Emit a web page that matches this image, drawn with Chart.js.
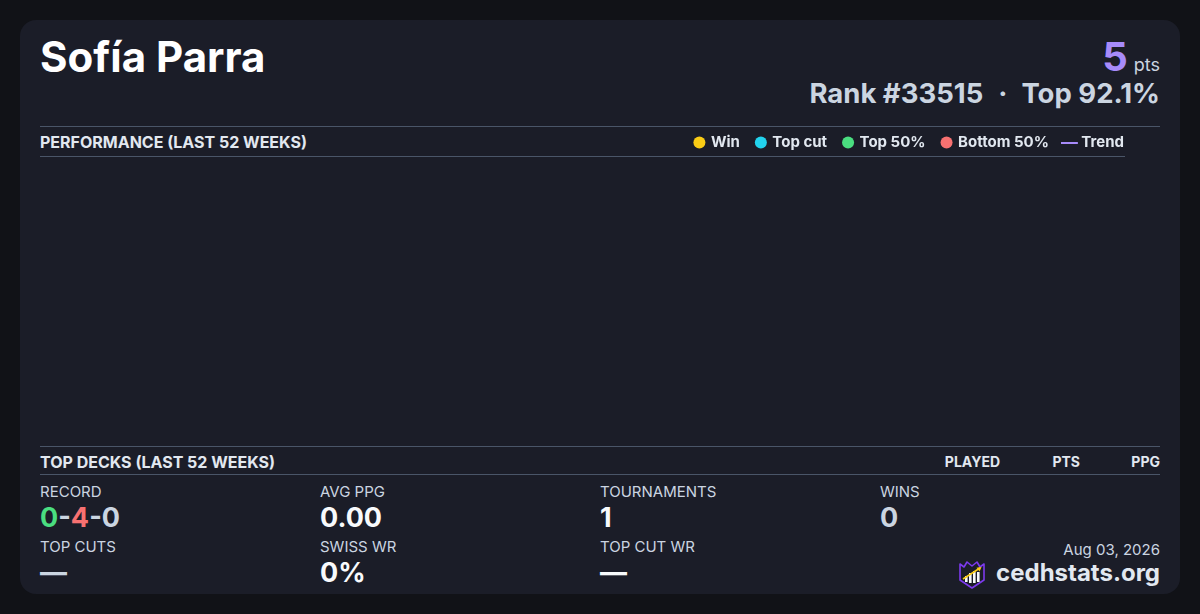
<!DOCTYPE html>
<html>
<head>
<meta charset="utf-8">
<script src="https://cdn.jsdelivr.net/npm/chart.js@4.4.1/dist/chart.umd.min.js"></script>
<style>
  html, body { margin: 0; padding: 0; }
  body { width: 1200px; height: 614px; background: #111217; overflow: hidden; font-family: Inter, "Noto Sans", sans-serif; position: relative; }
  .card { position: absolute; left: 20px; top: 20px; width: 1160px; height: 574px; background: #1b1d28; border-radius: 16px; }
  .abs { position: absolute; line-height: 1; white-space: nowrap; }
  .hline { position: absolute; height: 1px; background: #4a5568; }
  .name { left: 40px; top: 36px; font-size: 42px; font-weight: 700; color: #ffffff; }
  .pts { right: 40px; top: 37px; font-size: 40px; font-weight: 700; color: #a78bfa; }
  .pts small { font-size: 18px; font-weight: 400; color: #cbd5e1; margin-left: 6px; }
  .rank { right: 40px; top: 80px; font-size: 27.5px; font-weight: 700; color: #cbd5e1; }
  .rank .dot { display: inline-block; margin: 0 14px 0 15px; }
  .sec { font-size: 16px; font-weight: 700; color: #e2e8f0; }
  .colh { font-size: 14px; font-weight: 700; color: #e2e8f0; top: 455px; }
  .lbl { font-size: 15px; font-weight: 400; color: #cbd5e1; }
  .val { font-size: 27px; font-weight: 700; color: #f8fafc; }
  .date { right: 40px; top: 542px; font-size: 15px; color: #cbd5e1; }
  .site { right: 40px; top: 561px; font-size: 24px; font-weight: 700; color: #e2e8f0; }
  #chartBox { position: absolute; left: 40px; top: 118px; width: 1101px; height: 328px; }
</style>
</head>
<body>
<div class="card"></div>

<div class="abs name">Sofía Parra</div>
<div class="abs pts">5<small>pts</small></div>
<div class="abs rank">Rank #33515<span class="dot">·</span>Top 92.1%</div>

<div class="hline" style="left:40px; top:126px; width:1120px;"></div>
<div class="abs sec" style="left:40px; top:134px;">PERFORMANCE (LAST 52 WEEKS)</div>
<div class="hline" style="left:40px; top:156px; width:1085px;"></div>

<div id="chartBox"><canvas id="perfChart"></canvas></div>

<div class="hline" style="left:40px; top:446px; width:1120px;"></div>
<div class="abs sec" style="left:40px; top:454px;">TOP DECKS (LAST 52 WEEKS)</div>
<div class="abs colh" style="right:200px;">PLAYED</div>
<div class="abs colh" style="right:120px;">PTS</div>
<div class="abs colh" style="right:40px;">PPG</div>
<div class="hline" style="left:40px; top:474px; width:1120px;"></div>

<div class="abs lbl" style="left:40px; top:484px;">RECORD</div>
<div class="abs val" style="left:40px; top:503.5px;"><span style="color:#4ade80">0</span><span style="color:#cbd5e1">-</span><span style="color:#f87171">4</span><span style="color:#cbd5e1">-0</span></div>
<div class="abs lbl" style="left:320px; top:484px;">AVG PPG</div>
<div class="abs val" style="left:320px; top:503.5px;">0.00</div>
<div class="abs lbl" style="left:600px; top:484px;">TOURNAMENTS</div>
<div class="abs val" style="left:600px; top:503.5px;">1</div>
<div class="abs lbl" style="left:880px; top:484px;">WINS</div>
<div class="abs val" style="left:880px; top:503.5px; color:#cbd5e1;">0</div>

<div class="abs lbl" style="left:40px; top:539px;">TOP CUTS</div>
<div class="abs val" style="left:40px; top:558.5px; color:#cbd5e1;">—</div>
<div class="abs lbl" style="left:320px; top:539px;">SWISS WR</div>
<div class="abs val" style="left:320px; top:558.5px;">0%</div>
<div class="abs lbl" style="left:600px; top:539px;">TOP CUT WR</div>
<div class="abs val" style="left:600px; top:558.5px;">—</div>

<div class="abs date">Aug 03, 2026</div>
<svg style="position:absolute; left:957px; top:559px;" width="30" height="30" viewBox="0 0 30 30">
  <path d="M3 5 L7 8 L10 3 L15 7 L20 3 L23 8 L27 5 L27 21 L15 29 L3 21 Z" fill="#1b1d28" stroke="#7c3aed" stroke-width="1.6" stroke-linejoin="round"/>
  <rect x="8" y="17" width="2.6" height="6" fill="#f8fafc"/>
  <rect x="12" y="14" width="2.6" height="10" fill="#f8fafc"/>
  <rect x="16" y="12" width="2.6" height="12" fill="#f8fafc"/>
  <rect x="20" y="13" width="2.6" height="10" fill="#f8fafc"/>
  <path d="M6 20 L23 9" stroke="#facc15" stroke-width="1.6"/>
  <path d="M24.5 8 L19.5 8.8 L22.6 12.4 Z" fill="#facc15"/>
</svg>
<div class="abs site">cedhstats.org</div>

<script>
// weekly results, last 52 weeks (nothing placed on the chart for this player)
const weeks = [];
const winPts = [];
const topCutPts = [];
const top50Pts = [];
const bottom50Pts = [];
const trendPts = [];

const seriesNames = ["Win", "Top cut", "Top 50%", "Bottom 50%", "Trend"];
const seriesColors = ["#facc15", "#22d3ee", "#4ade80", "#f87171", "#a78bfa"];

// small line marker for the trend legend entry
const trendMark = document.createElement("canvas");
trendMark.width = 18;
trendMark.height = 2;
const tctx = trendMark.getContext("2d");
tctx.fillStyle = seriesColors[4];
tctx.fillRect(0, 0, 17, 2);

const ctx = document.getElementById("perfChart");

new Chart(ctx, {
  type: "line",
  data: {
    labels: weeks,
    datasets: [
      { label: seriesNames[0], data: winPts, showLine: false, backgroundColor: seriesColors[0], borderColor: seriesColors[0], pointStyle: "circle" },
      { label: seriesNames[1], data: topCutPts, showLine: false, backgroundColor: seriesColors[1], borderColor: seriesColors[1], pointStyle: "circle" },
      { label: seriesNames[2], data: top50Pts, showLine: false, backgroundColor: seriesColors[2], borderColor: seriesColors[2], pointStyle: "circle" },
      { label: seriesNames[3], data: bottom50Pts, showLine: false, backgroundColor: seriesColors[3], borderColor: seriesColors[3], pointStyle: "circle" },
      { label: seriesNames[4], data: trendPts, borderColor: seriesColors[4], backgroundColor: seriesColors[4], pointRadius: 0, borderWidth: 2, pointStyle: trendMark },
    ],
  },
  options: {
    responsive: true,
    maintainAspectRatio: false,
    animation: false,
    layout: { padding: 0 },
    scales: {
      x: { display: false },
      y: { display: false },
    },
    plugins: {
      tooltip: { enabled: false },
      legend: {
        position: "top",
        align: "end",
        labels: {
          usePointStyle: true,
          boxWidth: 8,
          boxHeight: 8.5,
          padding: 17,
          color: "#e2e8f0",
          font: { family: "Inter", size: 15, weight: "bold" },
          generateLabels: (chart) =>
            chart.data.datasets.map((ds, i) => ({
              text: ds.label,
              fillStyle: seriesColors[i],
              strokeStyle: seriesColors[i],
              lineWidth: 0,
              pointStyle: i === 4 ? trendMark : "circle",
              fontColor: "#e2e8f0",
              hidden: false,
              datasetIndex: i,
            })),
        },
      },
    },
  },
});
</script>
</body>
</html>
